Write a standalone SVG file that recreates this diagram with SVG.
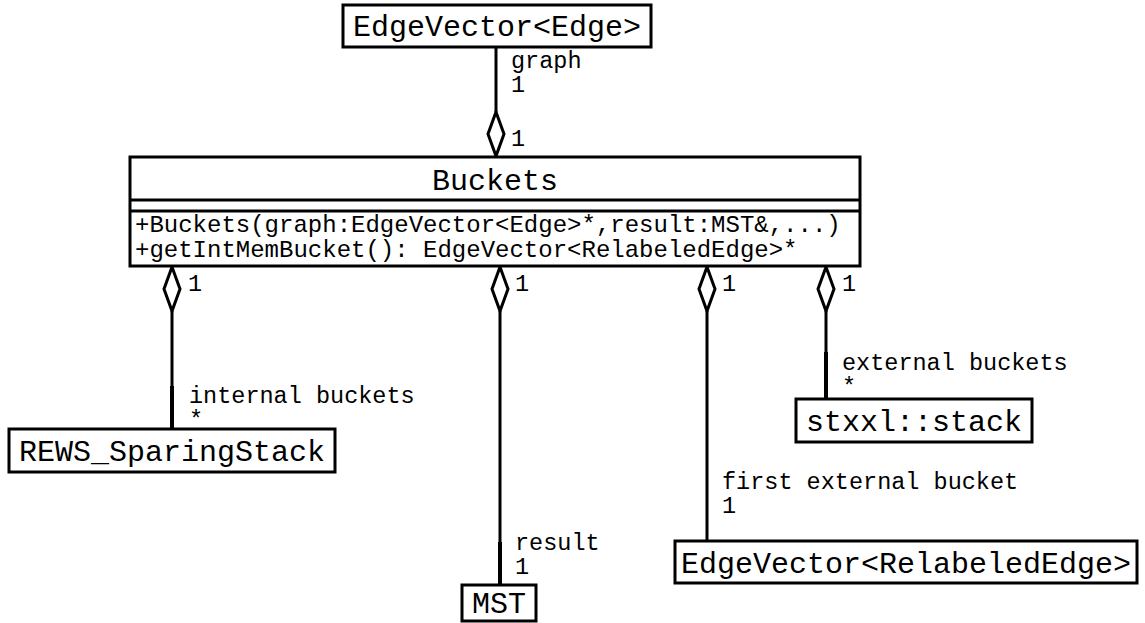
<svg xmlns="http://www.w3.org/2000/svg" width="1145" height="623" viewBox="0 0 1145 623">
  <style>
    .box { fill: #fff; stroke: #000; stroke-width: 3; }
    .name { font-family: "Liberation Mono", "Courier New", monospace; font-size: 30px; fill: #000; }
    .ops { font-family: "Liberation Mono", "Courier New", monospace; font-size: 24px; fill: #000; }
    .lbl { font-family: "Liberation Mono", "Courier New", monospace; font-size: 23.5px; fill: #000; }
    .edge { fill: none; stroke: #000; stroke-width: 3; }
    .end { fill: none; stroke: #000; stroke-width: 4; }
    .agg { fill: #fff; stroke: #000; stroke-width: 3; stroke-linejoin: miter; }
  </style>
  <defs>
    <!-- hollow aggregation diamond, tip at origin pointing up -->
    <path id="diamond" d="M0,0 L8,22 L0,44 L-8,22 Z"/>
  </defs>

  <rect width="1145" height="623" fill="#fff"/>

  <!-- associations -->
  <g id="connectors">
    <!-- graph -->
    <line class="edge" x1="496" y1="47" x2="496" y2="112"/>
    <use href="#diamond" class="agg" transform="translate(496,112)"/>
    <text class="lbl" x="511" y="68">graph</text>
    <text class="lbl" x="511" y="92">1</text>
    <text class="lbl" x="511" y="146">1</text>

    <!-- internal buckets -->
    <use href="#diamond" class="agg" transform="translate(172,267)"/>
    <line class="edge" x1="172" y1="311" x2="172" y2="386"/>
    <line class="end" x1="172" y1="386" x2="172" y2="429"/>
    <text class="lbl" x="188" y="291">1</text>
    <text class="lbl" x="189" y="403">internal buckets</text>
    <text class="lbl" x="189" y="427">*</text>

    <!-- result -->
    <use href="#diamond" class="agg" transform="translate(500,267)"/>
    <line class="edge" x1="500" y1="311" x2="500" y2="542"/>
    <line class="end" x1="500" y1="542" x2="500" y2="585"/>
    <text class="lbl" x="515" y="550">result</text>
    <text class="lbl" x="515" y="574">1</text>
    <text class="lbl" x="515" y="291">1</text>

    <!-- first external bucket -->
    <use href="#diamond" class="agg" transform="translate(707,267)"/>
    <line class="edge" x1="707" y1="311" x2="707" y2="541"/>
    <text class="lbl" x="722" y="291">1</text>
    <text class="lbl" x="722" y="489">first external bucket</text>
    <text class="lbl" x="722" y="513">1</text>

    <!-- external buckets -->
    <use href="#diamond" class="agg" transform="translate(826,267)"/>
    <line class="edge" x1="826" y1="311" x2="826" y2="352"/>
    <line class="end" x1="826" y1="352" x2="826" y2="399"/>
    <text class="lbl" x="842" y="291">1</text>
    <text class="lbl" x="842" y="370">external buckets</text>
    <text class="lbl" x="842" y="394">*</text>
  </g>

  <!-- classes -->
  <g id="edgevector-edge">
    <rect class="box" x="343" y="5" width="308" height="42"/>
    <text class="name" x="497" y="36" text-anchor="middle">EdgeVector&lt;Edge&gt;</text>
  </g>

  <g id="buckets">
    <rect class="box" x="130" y="157" width="730" height="109"/>
    <line class="edge" x1="130" y1="200" x2="860" y2="200"/>
    <line class="edge" x1="130" y1="211" x2="860" y2="211"/>
    <text class="name" x="495" y="190" text-anchor="middle">Buckets</text>
    <text class="ops" x="135" y="232">+Buckets(graph:EdgeVector&lt;Edge&gt;*,result:MST&amp;,...)</text>
    <text class="ops" x="135" y="257">+getIntMemBucket(): EdgeVector&lt;RelabeledEdge&gt;*</text>
  </g>

  <g id="rews-sparingstack">
    <rect class="box" x="9" y="429" width="326" height="43"/>
    <text class="name" x="172" y="461" text-anchor="middle">REWS_SparingStack</text>
  </g>

  <g id="mst">
    <rect class="box" x="462" y="585" width="74" height="36"/>
    <text class="name" x="499" y="613" text-anchor="middle">MST</text>
  </g>

  <g id="edgevector-relabelededge">
    <rect class="box" x="675" y="541" width="462" height="42"/>
    <text class="name" x="906" y="573" text-anchor="middle">EdgeVector&lt;RelabeledEdge&gt;</text>
  </g>

  <g id="stxxl-stack">
    <rect class="box" x="796" y="399" width="236" height="43"/>
    <text class="name" x="914" y="431" text-anchor="middle">stxxl::stack</text>
  </g>
</svg>
